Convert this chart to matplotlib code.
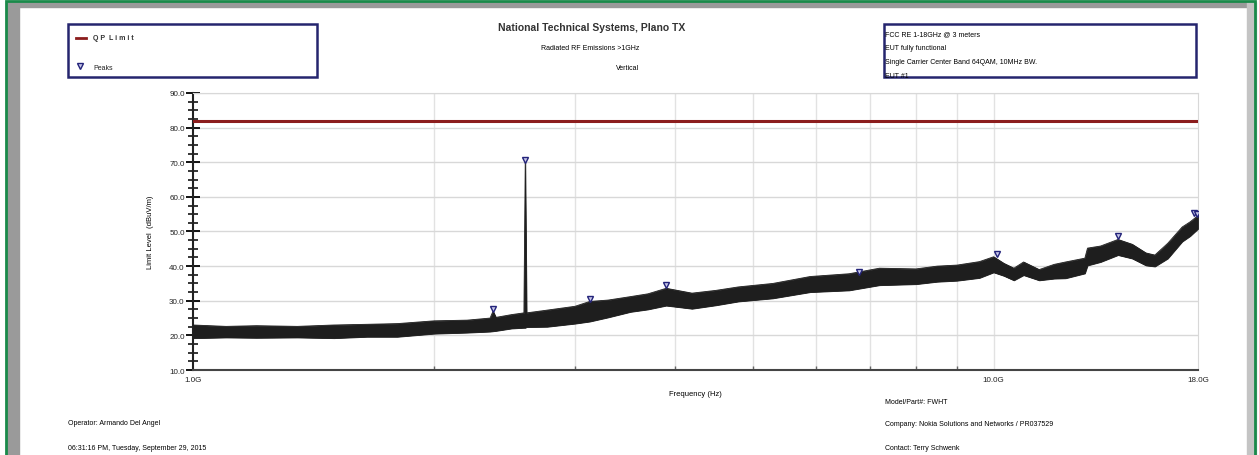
import numpy as np
import matplotlib
matplotlib.use("Agg")
import matplotlib.pyplot as plt
from matplotlib.patches import Rectangle
from matplotlib.ticker import FixedLocator, NullFormatter

plt.rcParams['font.family'] = ['Liberation Sans', 'DejaVu Sans']

# trace envelope (GHz, dBuV/m)
freq_ghz = [1.0, 1.1, 1.2, 1.35, 1.5, 1.65, 1.8, 2.0, 2.2, 2.35, 2.37, 2.39, 2.5, 2.59, 2.60, 2.61, 2.77, 3.0,
            3.13, 3.3, 3.52, 3.7, 3.9, 4.2, 4.5, 4.8, 5.3, 5.9, 6.6, 7.2, 8.0, 8.5, 9.0, 9.6, 10.0,
            10.3, 10.6, 10.9, 11.4, 11.9, 12.3, 13.0, 13.1, 13.6, 14.3, 14.9, 15.5, 15.9, 16.5,
            17.2, 17.6, 18.0]
trace_hi = [23.0, 22.6, 22.8, 22.6, 23.0, 23.2, 23.4, 24.2, 24.4, 25.0, 27.0, 25.2, 26.0, 26.5, 70.0, 26.5, 27.3, 28.4,
            29.8, 30.2, 31.2, 32.0, 33.6, 32.2, 33.0, 34.0, 35.0, 37.0, 37.8, 39.4, 39.2, 40.0, 40.3, 41.3, 42.7,
            40.8, 39.4, 41.2, 39.0, 40.5, 41.2, 42.3, 45.2, 45.8, 47.7, 46.3, 43.8, 43.2, 46.6,
            51.3, 52.8, 54.6]
trace_lo = [19.2, 19.4, 19.3, 19.4, 19.2, 19.6, 19.6, 20.5, 20.8, 21.1, 21.2, 21.3, 22.0, 22.2, 22.2, 22.4, 22.5, 23.4,
            24.0, 25.2, 26.8, 27.5, 28.6, 27.7, 28.7, 29.8, 30.7, 32.5, 33.0, 34.5, 34.8, 35.5, 35.8, 36.6, 38.2,
            37.2, 35.9, 37.4, 35.9, 36.4, 36.5, 37.9, 40.2, 41.2, 43.2, 42.2, 40.2, 39.9, 42.2,
            47.1, 48.7, 50.8]

qp_limit = 82.0

peak_ghz = [2.37, 2.60, 3.13, 3.90, 6.79, 10.1, 14.3, 17.8, 17.95]
peak_db = [27.0, 70.0, 29.8, 34.0, 37.8, 42.8, 48.0, 54.8, 54.4]

ytick_vals = [10, 20, 30, 40, 50, 60, 70, 80, 90]
xtick_ghz = [1.0, 10.0, 18.0]
xtick_labels = ['1.0G', '10.0G', '18.0G']
xminor_ghz = [2, 3, 4, 5, 6, 7, 8, 9]

fig = plt.figure(figsize=(12.59, 4.56), dpi=100)
fig.patch.set_facecolor('white')

# frame
W, H = 1259, 456
fig.patches.append(Rectangle((7 / W, 0), 12 / W, 1 - 3 / H, transform=fig.transFigure, color='#9a9a9a', zorder=0))
fig.patches.append(Rectangle((7 / W, 1 - 8 / H), 1 - 14 / W, 5 / H, transform=fig.transFigure, color='#9a9a9a', zorder=0))
fig.patches.append(Rectangle((1247 / W, 0), 9 / W, 1 - 3 / H, transform=fig.transFigure, color='#c4c4c4', zorder=0))
fig.patches.append(Rectangle((6 / W, -0.01), 1 - 10 / W, 1 - 1.5 / H + 0.01, transform=fig.transFigure,
                             fill=False, edgecolor='#1a8a4a', linewidth=2, zorder=1))

ax = fig.add_axes([193 / W, 1 - 371 / H, 1005 / W, 277 / H])
freq = np.array(freq_ghz) * 1e9
ax.fill_between(freq, trace_lo, trace_hi, color='#1e1e1e', linewidth=0.6, zorder=3)
ax.plot(freq, trace_hi, color='#1e1e1e', linewidth=0.6, zorder=3)
ax.plot(freq, trace_lo, color='#1e1e1e', linewidth=0.6, zorder=3)
ax.axhline(qp_limit, color='#8b1c1c', linewidth=2.2, zorder=4)
ax.plot(np.array(peak_ghz) * 1e9, np.array(peak_db) + 0.6, 'v', ms=4, mfc='#c8c8e8', mec='#23237a',
        mew=1.0, linestyle='none', zorder=5)

ax.set_xscale('log')
ax.set_xlim(1e9, 18e9)
ax.set_ylim(10, 90)
ax.xaxis.set_major_locator(FixedLocator(np.array(xtick_ghz) * 1e9))
ax.set_xticklabels(xtick_labels)
ax.xaxis.set_minor_locator(FixedLocator(np.array(xminor_ghz) * 1e9))
ax.xaxis.set_minor_formatter(NullFormatter())
ax.set_yticks(ytick_vals)
ax.set_yticklabels(['%.1f' % v for v in ytick_vals])
ax.yaxis.set_minor_locator(FixedLocator(np.arange(10, 90.1, 2.5)))
ax.tick_params(axis='y', which='major', direction='inout', length=10, width=1.3, labelsize=5.8, pad=1,
               labelcolor='#222222')
ax.tick_params(axis='y', which='minor', direction='inout', length=7, width=1.1)
ax.tick_params(axis='x', which='major', direction='in', length=0, labelsize=5.8, pad=4, labelcolor='#222222')
ax.tick_params(axis='x', which='minor', direction='in', length=3, width=1.0, color='#666666')
ax.grid(True, which='major', axis='y', color='#d8d8d8', linewidth=1.0, zorder=0)
ax.grid(True, which='minor', axis='x', color='#e2e2e2', linewidth=1.0, zorder=0)
ax.axvline(10e9, color='#e2e2e2', linewidth=1.0, zorder=0)
ax.spines['left'].set_linewidth(1.5)
ax.spines['bottom'].set_linewidth(1.5)
ax.spines['left'].set_color('#222222')
ax.spines['bottom'].set_color('#444444')
ax.spines['top'].set_color('#d8d8d8')
ax.spines['right'].set_color('#d8d8d8')
ax.set_facecolor('white')
ax.set_ylabel('Limit Level  (dBuV/m)', fontsize=5.5, labelpad=11)
ax.set_xlabel('Frequency (Hz)', fontsize=5.5, labelpad=5)

# legend box
fig.patches.append(Rectangle((68 / W, 1 - 78 / H), 249 / W, 53 / H, transform=fig.transFigure,
                             fill=False, edgecolor='#25256e', linewidth=1.8))
fig.lines.append(plt.Line2D([76 / W, 86 / W], [1 - 39 / H] * 2, transform=fig.transFigure,
                            color='#8b1c1c', linewidth=2))
fig.text(93 / W, 1 - 39 / H, 'Q P  L i m i t', fontsize=5, fontweight='bold', va='center', color='#333333')
fig.lines.append(plt.Line2D([80 / W], [1 - 67 / H], transform=fig.transFigure, marker='v', ms=4,
                            mfc='#c8c8e8', mec='#23237a', mew=1.0, linestyle='none'))
fig.text(93 / W, 1 - 68 / H, 'Peaks', fontsize=5, va='center', color='#222222')

# titles
fig.text(592 / W, 1 - 28 / H, 'National Technical Systems, Plano TX', fontsize=7.5, fontweight='bold',
         ha='center', va='center', color='#333333')
fig.text(590 / W, 1 - 49 / H, 'Radiated RF Emissions >1GHz', fontsize=5, ha='center', va='center')
fig.text(628 / W, 1 - 68 / H, 'Vertical', fontsize=5, ha='center', va='center')

# info box
fig.patches.append(Rectangle((884 / W, 1 - 78 / H), 312 / W, 53 / H, transform=fig.transFigure,
                             fill=False, edgecolor='#25256e', linewidth=1.8))
info_lines = ['FCC RE 1-18GHz @ 3 meters', 'EUT fully functional',
              'Single Carrier Center Band 64QAM, 10MHz BW.', 'EUT #1']
for i, s in enumerate(info_lines):
    fig.text(885 / W, 1 - (35 + 14 * i) / H, s, fontsize=5, va='center')

# footer
fig.text(885 / W, 1 - 403 / H, 'Model/Part#: FWHT', fontsize=5, va='center')
fig.text(68 / W, 1 - 424 / H, 'Operator: Armando Del Angel', fontsize=5, va='center')
fig.text(885 / W, 1 - 425 / H, 'Company: Nokia Solutions and Networks / PR037529', fontsize=5, va='center')
fig.text(68 / W, 1 - 449 / H, '06:31:16 PM, Tuesday, September 29, 2015', fontsize=5, va='center')
fig.text(885 / W, 1 - 449 / H, 'Contact: Terry Schwenk', fontsize=5, va='center')

fig.savefig('out.png', dpi=100, facecolor='white')
